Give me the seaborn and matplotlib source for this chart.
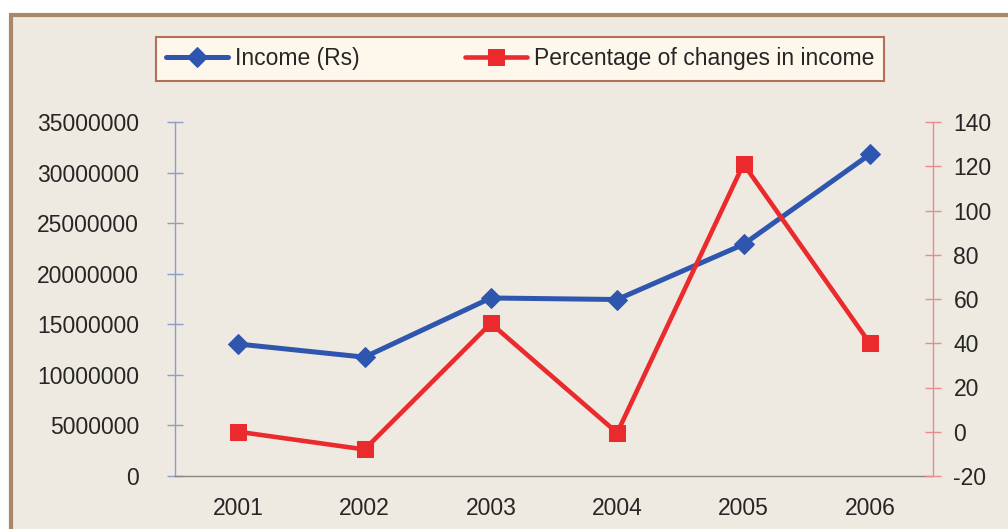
import matplotlib
matplotlib.use("Agg")
import matplotlib.pyplot as plt
from matplotlib.patches import Rectangle
from matplotlib.ticker import FixedLocator, FuncFormatter
import seaborn as sns
import pandas as pd

# Yearly income and its year-on-year percentage change
years = [2001, 2002, 2003, 2004, 2005, 2006]
income_rs = [13050000, 11750000, 17600000, 17450000, 22900000, 31800000]
pct_change = [0, -8, 49, -0.5, 121, 40]

income_label = "Income (Rs)"
pct_label = "Percentage of changes in income"

left_ticks = [0, 5000000, 10000000, 15000000, 20000000, 25000000, 30000000, 35000000]
right_ticks = [-20, 0, 20, 40, 60, 80, 100, 120, 140]

df = pd.DataFrame({"year": years, "income": income_rs, "pct": pct_change})

sns.set_style("white")
plt.rcParams["font.family"] = ["Liberation Sans", "DejaVu Sans"]

BLUE = "#2F56AE"
RED = "#EA2A2C"
PANEL = "#EEEAE1"
TEXT = "#262626"
FS = 16.5

fig = plt.figure(figsize=(10.08, 5.29), dpi=100)
fig.patch.set_facecolor("white")

# Framed chart panel
fig.add_artist(Rectangle((11 / 1008, -0.2), 1.2, 1.2 - 15 / 529,
                         transform=fig.transFigure, facecolor=PANEL,
                         edgecolor="#A8886A", linewidth=3, zorder=-5))

ax = fig.add_axes([175 / 1008, 1 - 476 / 529, (933 - 175) / 1008, (476 - 122) / 529])
ax.set_facecolor("none")
ax2 = ax.twinx()
ax2.set_facecolor("none")

sns.lineplot(data=df, x="year", y="income", ax=ax, color=BLUE, linewidth=3.6,
             marker="D", markersize=10.5, markeredgecolor=BLUE, label=income_label,
             legend=False)
sns.lineplot(data=df, x="year", y="pct", ax=ax2, color=RED, linewidth=3.3,
             marker="s", markersize=12, markeredgecolor=RED, label=pct_label,
             legend=False)

ax.set_xlim(2000.5, 2006.5)
ax.set_ylim(0, 35000000)
ax2.set_ylim(-20, 140)

ax.set_xticks(years)
ax.xaxis.set_minor_locator(FixedLocator([y + 0.5 for y in years]))
ax.set_yticks(left_ticks)
ax.yaxis.set_major_formatter(FuncFormatter(lambda v, p: f"{int(v)}"))
ax2.set_yticks(right_ticks)
ax2.yaxis.set_major_formatter(FuncFormatter(lambda v, p: f"{int(v)}"))

ax.set_xlabel("")
ax.set_ylabel("")
ax2.set_ylabel("")

for a in (ax, ax2):
    a.spines["top"].set_visible(False)
    a.grid(False)

ax.spines["right"].set_visible(False)
ax2.spines["left"].set_visible(False)
ax2.spines["bottom"].set_visible(False)
ax.spines["left"].set_color("#8D9CCB")
ax.spines["bottom"].set_color("#8A8580")
ax2.spines["right"].set_color("#E88C8C")
for s in (ax.spines["left"], ax.spines["bottom"], ax2.spines["right"]):
    s.set_linewidth(1.0)

ax.tick_params(axis="x", which="major", length=0, pad=15, labelsize=FS, labelcolor=TEXT)
ax.tick_params(axis="x", which="minor", direction="out", length=6, width=1, color="#8A8580")
ax.tick_params(axis="y", direction="inout", length=11.5, width=1, color="#8D9CCB",
               pad=20, labelsize=FS, labelcolor=TEXT, left=True)
ax2.tick_params(axis="y", direction="inout", length=11.5, width=1, color="#E88C8C",
                pad=9, labelsize=FS, labelcolor=TEXT, right=True)

handles = [ax.lines[0], ax2.lines[0]]
leg = fig.legend(handles, [income_label, pct_label], loc="center",
                 bbox_to_anchor=(520 / 1008, 1 - 59 / 529), ncol=2,
                 frameon=True, fancybox=False, fontsize=FS, handlelength=2.7,
                 handletextpad=0.3, columnspacing=4.6, borderpad=0.45,
                 borderaxespad=0)
frame = leg.get_frame()
frame.set_facecolor("#FDF8EB")
frame.set_edgecolor("#B56E5C")
frame.set_linewidth(1.5)
frame.set_alpha(1)
for t in leg.get_texts():
    t.set_color(TEXT)

fig.savefig("out.png", dpi=100, facecolor="white")
